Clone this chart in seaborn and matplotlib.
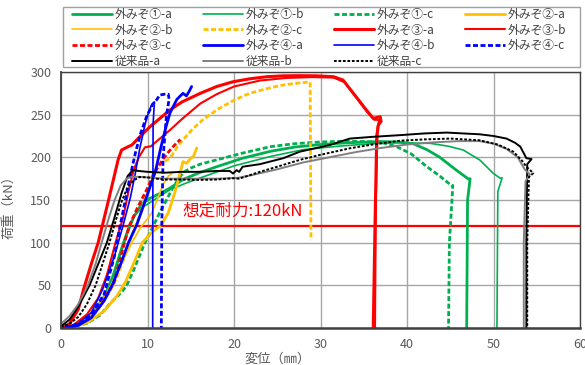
import numpy as np
import pandas as pd
import matplotlib
matplotlib.use("Agg")
import matplotlib.pyplot as plt
from matplotlib.patches import Rectangle
import seaborn as sns

# ---- load-displacement curves (displacement mm, load kN) ----
m1a_x = [0.6, 2, 3.5, 5, 6, 6.8, 7.6, 8.4, 9.3, 10.3, 11.5, 12.6, 14.1, 16, 18, 21, 24.2, 27, 30, 33, 36.9, 39, 40.7, 42.3, 43.8, 45.7, 47.1, 47.3, 47.0, 46.9]
m1a_y = [0, 4, 14, 36, 60, 85, 110, 130, 145, 152, 158, 164, 174, 182, 189, 199, 207, 212, 215, 217, 218.5, 218, 216, 209, 200, 185, 174.6, 175, 150, 0]

m1b_x = [0.6, 2, 3.5, 5, 6, 7, 7.8, 8.6, 9.5, 10.3, 11.5, 12.6, 14.5, 16.4, 20, 24.2, 28, 32, 36, 39, 42.7, 44.8, 46.5, 48.4, 50, 50.8, 51, 50.5, 50.4]
m1b_y = [0, 5, 15, 38, 62, 95, 118, 133, 142, 147, 155, 162, 170, 177, 190, 201, 209, 213, 216, 217, 216.4, 213, 208.6, 197, 181, 175.4, 176, 160, 0]

m1c_x = [0.8, 3, 4.5, 5.7, 7, 7.6, 8.4, 9.7, 10.3, 11.4, 12.2, 13, 14.1, 14.9, 16.1, 18, 21, 24.2, 27, 30, 33, 36.9, 38.8, 40.5, 42.3, 43.8, 45.2, 45.3, 44.9, 44.8]
m1c_y = [0, 5.5, 15, 29, 42, 50, 68, 100, 112, 135, 150, 166, 182, 187, 192, 197, 205, 212.5, 216, 218, 219, 218, 212.5, 204, 189, 178, 166.4, 167, 100, 0]

m2a_x = [0.8, 3, 5, 6.5, 7.5, 8.5, 9.4, 10.5, 11.6, 12.4, 13.2, 13.8, 14.1, 14.5, 15, 15.3, 15.7]
m2a_y = [0, 6, 20, 38, 55, 78, 100, 112, 121, 135, 160, 183, 195, 193, 199, 201, 211]

m2b_x = [0.5, 2, 4, 5.5, 6.8, 8.2, 9.2, 10, 10.5, 11.1, 11.8, 12.4, 12.8]
m2b_y = [0, 5, 20, 45, 72, 100, 118, 128, 135, 150, 168, 178, 181]

m2c_x = [0.6, 2.5, 4, 5.5, 6.5, 7.5, 8.6, 9.3, 10.1, 10.6, 11.2, 12.6, 13.6, 15.1, 16.5, 18, 20, 21.8, 24, 25.7, 27, 28.4, 28.8, 28.9]
m2c_y = [0, 6, 18, 40, 60, 88, 120, 136, 164, 180, 190, 199, 214.5, 232, 245, 255.5, 267, 275, 281, 284.8, 286.5, 288, 288, 103]

m3a_x = [0, 1, 2, 2.6, 3.5, 4.3, 5.5, 6.6, 7.0, 7.6, 8.2, 9.1, 10.3, 12.6, 14, 16.1, 18, 19.9, 21.8, 23.8, 25.7, 27.6, 29.5, 31.5, 32.6, 33.8, 35.3, 36.1, 36.9, 37.0, 36.7, 36.5, 36.3, 36.1]
m3a_y = [0, 5, 22, 45, 75, 100, 150, 197, 208.6, 211.7, 214.5, 224, 236, 255.5, 265, 275, 283, 288.6, 292, 294.5, 295.5, 295.7, 295.5, 294.5, 290.6, 275, 255.5, 245.7, 247.6, 242, 238, 225, 120, 0]

m3b_x = [0.3, 1.5, 3, 4.3, 5.3, 6.3, 7.2, 7.8, 8.4, 9.0, 9.7, 10.4, 11.2, 12.6, 14, 16.1, 18, 20, 23, 26, 29, 31.5, 32.8, 34, 35.4, 36.2, 36.8, 36.6, 36.4, 36.3]
m3b_y = [0, 4, 16, 35, 62, 100, 130, 160, 185, 200, 211.7, 213, 220, 232, 245, 263, 274, 283, 290, 293, 294, 293.5, 288, 272, 253, 244, 244, 236, 150, 0]

m3c_x = [0.5, 2, 3.5, 5, 6.1, 7.2, 7.9, 8.8, 9.9, 10.7, 11.8, 12.8, 13.8]
m3c_y = [0, 5, 17, 35, 52, 95, 120, 140, 162, 180, 198, 211, 221]

m4a_x = [0.5, 2, 3.5, 5, 6, 6.9, 7.8, 8.75, 9.7, 10.9, 11.6, 12.2, 12.6, 13.4, 14.1, 14.5, 14.8, 15.1]
m4a_y = [0, 3, 12, 32, 52, 75, 100, 120.7, 148, 183, 214, 238, 252, 268, 275, 272, 277, 283]

m4b_x = [0.3, 2, 3.5, 4.8, 6.2, 7.2, 8.0, 8.55, 9.1, 9.7, 10.1, 10.5, 10.8, 10.65, 10.6, 10.6]
m4b_y = [0, 5, 18, 45, 85, 121, 152, 179, 210, 238, 252, 262, 265, 240, 100, 0]

m4c_x = [0.5, 2, 3.5, 5, 6.2, 6.8, 7.4, 8.0, 8.6, 9.2, 9.9, 10.6, 11.1, 11.4, 12.0, 12.4, 12.5, 12.2, 11.8, 11.65, 11.6]
m4c_y = [0, 5, 16, 40, 85, 118, 148, 178, 205, 228, 248, 262, 268, 273, 274, 274, 268, 250, 200, 120, 0]

conv_a_x = [0, 1, 2, 3.3, 4.3, 5.3, 6.2, 7.0, 7.7, 8.3, 9, 10, 12, 14, 16, 18, 19.5, 19.9, 20.3, 20.6, 21, 23, 25.7, 27.6, 31.1, 33.4, 36, 39.2, 42, 44.6, 48.4, 50, 51.5, 52.5, 53.1, 53.8, 54.4, 53.9, 53.8, 53.8]
conv_a_y = [2, 10, 25, 50, 75, 100, 130, 158, 178, 185, 184, 183, 182, 183, 183, 184, 184, 181, 185, 183, 189, 192, 199, 206.6, 214.5, 222, 224, 226, 228, 229, 227, 225, 222, 217, 212.5, 199, 198, 192, 100, 0]

conv_b_x = [0, 1, 2, 3.1, 4, 4.7, 5.5, 6.2, 6.9, 7.6, 8.3, 9.2, 10.5, 12, 15, 18, 20.5, 22, 25, 28, 31, 34, 37, 40, 43, 46, 48.4, 50, 51.5, 52.8, 53.6, 54.2, 53.7, 53.5, 53.5]
conv_b_y = [5, 14, 28, 50, 75, 100, 128, 150, 167, 175, 177.5, 177, 176, 175, 175, 175, 176, 179, 186, 194, 200, 206, 211, 215, 217.5, 219, 219, 216, 210, 200, 186, 180, 172, 100, 0]

conv_c_x = [0, 1, 2, 3, 4, 4.8, 5.6, 6.3, 7.0, 7.7, 8.4, 9.1, 10, 11, 12, 14, 16, 18, 19.9, 20.6, 21.5, 23, 25, 27.6, 30, 33.4, 36, 39.2, 42, 45, 48.4, 50.5, 52.3, 53.3, 53.8, 54.6, 54.1, 53.9, 53.9]
conv_c_y = [1, 5, 13, 28, 50, 75, 100, 125, 148, 165, 173, 177, 176.5, 175, 174, 174, 173.5, 174, 175.5, 175, 178, 183, 189, 197, 203, 210.6, 215, 219.5, 221, 222, 220, 215, 206.6, 196, 189, 181.5, 177, 100, 0]

series_names = ["外みぞ①-a", "外みぞ①-b", "外みぞ①-c", "外みぞ②-a", "外みぞ②-b",
                "外みぞ②-c", "外みぞ③-a", "外みぞ③-b", "外みぞ③-c", "外みぞ④-a",
                "外みぞ④-b", "外みぞ④-c", "従来品-a", "従来品-b", "従来品-c"]
design_load = 120
design_label = "想定耐力:120kN"

curves = [(m1a_x, m1a_y), (m1b_x, m1b_y), (m1c_x, m1c_y), (m2a_x, m2a_y), (m2b_x, m2b_y),
          (m2c_x, m2c_y), (m3a_x, m3a_y), (m3b_x, m3b_y), (m3c_x, m3c_y), (m4a_x, m4a_y),
          (m4b_x, m4b_y), (m4c_x, m4c_y), (conv_a_x, conv_a_y), (conv_b_x, conv_b_y), (conv_c_x, conv_c_y)]

GREEN, YELLOW, RED, BLUE = "#00B050", "#FFC000", "#FF0000", "#0000FF"
DASH = (0, (1.8, 0.9))
DOT = (0, (1.4, 0.9))
styles = [
    (GREEN, 2.0, "-"), (GREEN, 1.2, "-"), (GREEN, 2.0, DASH),
    (YELLOW, 2.0, "-"), (YELLOW, 1.2, "-"), (YELLOW, 2.0, DASH),
    (RED, 2.2, "-"), (RED, 1.5, "-"), (RED, 2.0, DASH),
    (BLUE, 2.0, "-"), (BLUE, 1.2, "-"), (BLUE, 2.0, DASH),
    ("#000000", 1.4, "-"), ("#808080", 1.4, "-"), ("#000000", 1.4, DOT),
]

sns.set_style("white")
plt.rcParams["font.family"] = ["Noto Sans CJK JP", "DejaVu Sans"]

fig = plt.figure(figsize=(5.85, 3.65), dpi=100)
ax = fig.add_axes([61 / 585, 1 - 328 / 365, 519 / 585, 256 / 365])

handles = []
for name, (xs, ys), (col, lw, ls) in zip(series_names, curves, styles):
    df = pd.DataFrame({"変位": xs, "荷重": ys})
    sns.lineplot(data=df, x="変位", y="荷重", ax=ax, sort=False, estimator=None,
                 color=col, linewidth=lw, linestyle=ls, label=name, legend=False)
    handles.append(ax.lines[-1])

ax.axhline(design_load, color=RED, linewidth=1.6, zorder=1.5)
ax.text(14.1, 137, design_label, color=RED, fontsize=12, va="center", ha="left")

ax.set_xlim(0, 60)
ax.set_ylim(0, 300)
ax.set_xticks(np.arange(0, 61, 10))
ax.set_yticks(np.arange(0, 301, 50))
ax.set_xticks(np.arange(0, 61, 2), minor=True)
ax.grid(True, which="major", color="#A6A6A6", linewidth=1.0)
ax.set_axisbelow(True)
ax.tick_params(axis="both", which="major", direction="in", length=4, width=1,
               color="#404040", labelsize=9, labelcolor="#595959", pad=7)
ax.tick_params(axis="x", which="minor", direction="in", length=3, width=1, color="#404040")
for side, sp in ax.spines.items():
    sp.set_color("#404040")
    sp.set_linewidth(1.0)
ax.spines["bottom"].set_linewidth(1.8)
ax.spines["left"].set_linewidth(1.3)

ax.set_xlabel("変位（㎜）", fontsize=9.5, color="#595959")
ax.set_ylabel("荷重（kN）", fontsize=9.5, color="#595959")
ax.xaxis.set_label_coords(0.418, -0.095)
ax.yaxis.set_label_coords(-0.088, 0.484)

# legend: fill rows left-to-right (matplotlib fills columns first)
ncol = 4
nrow = int(np.ceil(len(handles) / ncol))
order = []
for c in range(ncol):
    for r in range(nrow):
        i = r * ncol + c
        if i < len(handles):
            order.append(i)
leg = fig.legend([handles[i] for i in order], [series_names[i] for i in order],
                 ncol=ncol, loc="upper left",
                 bbox_to_anchor=(72 / 585, 1 - 8 / 365),
                 bbox_transform=fig.transFigure, fontsize=8.5, frameon=False,
                 borderaxespad=0, borderpad=0,
                 handlelength=3.4, handletextpad=0.2, labelspacing=0.22,
                 columnspacing=2.55)
for t in leg.get_texts():
    t.set_color("#404040")
fig.patches.append(Rectangle((63 / 585, 1 - 67 / 365), 517 / 585, 60 / 365,
                             transform=fig.transFigure, fill=False,
                             edgecolor="#A0A0A0", linewidth=1.0))

fig.savefig("out.png", dpi=100)
